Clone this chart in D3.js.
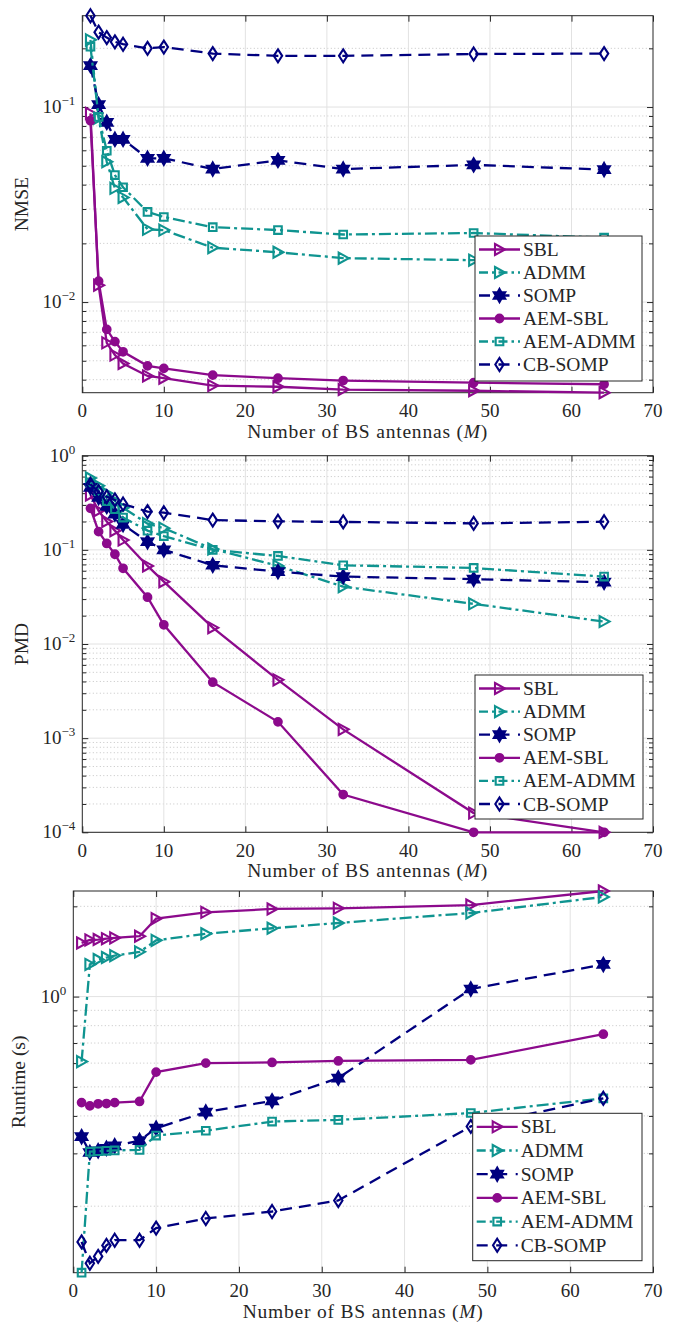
<!DOCTYPE html>
<html>
<head>
<meta charset="utf-8">
<script src="https://cdn.jsdelivr.net/npm/d3@7"></script>
<style>
  body { margin: 0; background: #fff; }
  svg { display: block; }
  text { font-family: "Liberation Serif", "DejaVu Serif", serif; fill: #262626; }
</style>
</head>
<body>
<div id="chart"></div>
<script>

// x values shared by every curve
const antennas = [1, 2, 3, 4, 5, 8, 10, 16, 24, 32, 48, 64]
const seriesNames = ["SBL", "ADMM", "SOMP", "AEM-SBL", "AEM-ADMM", "CB-SOMP"]
const xTicks = [0, 10, 20, 30, 40, 50, 60, 70]

// NMSE (top panel)
const nmseSBL     = [0.0928, 0.0122, 0.00618, 0.00535, 0.00484, 0.00418, 0.00407, 0.00373, 0.00368, 0.00356, 0.00351, 0.00343]
const nmseADMM    = [0.221, 0.0877, 0.0524, 0.0383, 0.0344, 0.0236, 0.0234, 0.0190, 0.0180, 0.0168, 0.0164, 0.0162]
const nmseSOMP    = [0.163, 0.103, 0.0835, 0.0683, 0.0683, 0.0546, 0.0546, 0.0481, 0.0533, 0.0481, 0.0505, 0.0478]
const nmseAEMSBL  = [0.0851, 0.0128, 0.00724, 0.00627, 0.00556, 0.00471, 0.00457, 0.00422, 0.00407, 0.00396, 0.00386, 0.00379]
const nmseAEMADMM = [0.204, 0.089, 0.0597, 0.0448, 0.0388, 0.0290, 0.0273, 0.0242, 0.0234, 0.0222, 0.0226, 0.0214]
const nmseCBSOMP  = [0.294, 0.242, 0.227, 0.216, 0.210, 0.200, 0.203, 0.188, 0.183, 0.183, 0.187, 0.188]

// PMD (middle panel)
const pmdSBL     = [0.383, 0.26, 0.20, 0.16, 0.127, 0.0675, 0.0459, 0.0149, 0.00416, 0.00124, 0.00016, 0.0001]
const pmdADMM    = [0.58, 0.48, 0.40, 0.33, 0.28, 0.19, 0.17, 0.102, 0.0675, 0.0407, 0.0267, 0.0173]
const pmdSOMP    = [0.46, 0.36, 0.29, 0.24, 0.186, 0.122, 0.100, 0.0686, 0.0587, 0.052, 0.0488, 0.0453]
const pmdAEMSBL  = [0.276, 0.156, 0.117, 0.0898, 0.0637, 0.0314, 0.0160, 0.00393, 0.00149, 0.000252, 0.0001, 0.0001]
const pmdAEMADMM = [0.52, 0.42, 0.33, 0.27, 0.22, 0.16, 0.14, 0.100, 0.0861, 0.0686, 0.0642, 0.052]
const pmdCBSOMP  = [0.497, 0.415, 0.367, 0.339, 0.307, 0.255, 0.248, 0.207, 0.201, 0.198, 0.191, 0.199]

// Runtime in seconds (bottom panel)
const rtSBL     = [1.51, 1.545, 1.55, 1.56, 1.57, 1.59, 1.82, 1.91, 1.96, 1.97, 2.02, 2.25]
const rtADMM    = [0.607, 1.28, 1.33, 1.35, 1.37, 1.41, 1.54, 1.62, 1.69, 1.76, 1.90, 2.15]
const rtSOMP    = [0.341, 0.302, 0.306, 0.312, 0.318, 0.331, 0.364, 0.412, 0.449, 0.535, 1.06, 1.28]
const rtAEMSBL  = [0.443, 0.432, 0.439, 0.44, 0.443, 0.447, 0.56, 0.60, 0.603, 0.61, 0.615, 0.749]
const rtAEMADMM = [0.120, 0.304, 0.305, 0.306, 0.307, 0.308, 0.344, 0.357, 0.383, 0.388, 0.409, 0.458]
const rtCBSOMP  = [0.152, 0.129, 0.136, 0.148, 0.154, 0.154, 0.169, 0.182, 0.192, 0.209, 0.369, 0.458]

// y limits of each panel (tight to the data in the figure)
const nmseLimits = [0.00343, 0.294]
const pmdLimits = [1e-4, 1]
const rtLimits = [0.12, 2.25]

const purple = '#8c0a8c', teal = '#0f9490', navy = '#00007f', axisColor = '#262626'
const fontFamily = '"Liberation Serif", "DejaVu Serif", serif'

const styles = {
    'SBL':      {color: purple, dash: null,          marker: 'tri'},
    'ADMM':     {color: teal,   dash: '12,4,3,4',    marker: 'tri'},
    'SOMP':     {color: navy,   dash: '12,7',        marker: 'hex'},
    'AEM-SBL':  {color: purple, dash: null,          marker: 'circle'},
    'AEM-ADMM': {color: teal,   dash: '12,4,3,4',    marker: 'square'},
    'CB-SOMP':  {color: navy,   dash: '12,7',        marker: 'diamond'}
}

function markerPath(type){
    if(type == 'tri') return 'M-4.5,-5.5L5.5,0L-4.5,5.5Z'
    if(type == 'square') return 'M-3.8,-3.8h7.6v7.6h-7.6Z'
    if(type == 'diamond') return 'M0,-6.5L4.2,0L0,6.5L-4.2,0Z'
    if(type == 'circle') return d3.symbol(d3.symbolCircle, 46)()
    // six pointed star
    let pts = []
    for(let i = 0; i < 12; i++){
        let a = (-90 + i * 30) * Math.PI / 180
        let r = i % 2 == 0 ? 6.6 : 3.8
        pts.push([r * Math.cos(a), r * Math.sin(a)])
    }
    return 'M' + pts.map(p => p[0].toFixed(2) + ',' + p[1].toFixed(2)).join('L') + 'Z'
}

function markerFill(type, color){
    return (type == 'hex' || type == 'circle') ? color : 'none'
}

const panels = [
    {top: 15.7, bottom: 392.7, left: 82.3, right: 653, limits: nmseLimits, ylabel: 'NMSE', ylabX: 28,
     values: [nmseSBL, nmseADMM, nmseSOMP, nmseAEMSBL, nmseAEMADMM, nmseCBSOMP],
     legend: {x: 475, y: 236, w: 167, h: 145, step: 23}},
    {top: 455.7, bottom: 832.3, left: 82.3, right: 653, limits: pmdLimits, ylabel: 'PMD', ylabX: 28,
     values: [pmdSBL, pmdADMM, pmdSOMP, pmdAEMSBL, pmdAEMADMM, pmdCBSOMP],
     legend: {x: 475, y: 675, w: 168, h: 144, step: 23.1}},
    {top: 891, bottom: 1272.7, left: 73.3, right: 653, limits: rtLimits, ylabel: 'Runtime (s)', ylabX: 25,
     values: [rtSBL, rtADMM, rtSOMP, rtAEMSBL, rtAEMADMM, rtCBSOMP],
     legend: {x: 472.7, y: 1113.3, w: 169.3, h: 147.4, step: 23.7}}
]

let svg = d3.select('#chart').append('svg')
    .attr('width', 677)
    .attr('height', 1324)
    .attr('font-family', fontFamily)

panels.forEach(function(p){

    let g = svg.append('g')

    let x = d3.scaleLinear().domain([0, 70]).range([p.left, p.right])
    let y = d3.scaleLog().domain(p.limits).range([p.bottom, p.top])

    let lo = Math.floor(Math.log10(p.limits[0])), hi = Math.ceil(Math.log10(p.limits[1]))
    let decades = [], minors = []
    for(let k = lo; k <= hi; k++){
        let v = Math.pow(10, k)
        if(v >= p.limits[0] * 0.999 && v <= p.limits[1] * 1.001) decades.push(v)
        for(let m = 2; m <= 9; m++){
            let mv = m * v
            if(mv > p.limits[0] && mv < p.limits[1]) minors.push(mv)
        }
    }

    // grid
    g.append('g').selectAll('line')
        .data(minors)
        .enter()
        .append('line')
        .attr('x1', p.left).attr('x2', p.right)
        .attr('y1', d => y(d)).attr('y2', d => y(d))
        .attr('stroke', '#c4c4c4')
        .attr('stroke-width', 1)
        .attr('stroke-dasharray', '1,2.5')

    g.append('g').selectAll('line')
        .data(decades)
        .enter()
        .append('line')
        .attr('x1', p.left).attr('x2', p.right)
        .attr('y1', d => y(d)).attr('y2', d => y(d))
        .attr('stroke', '#e2e2e2')
        .attr('stroke-width', 1)

    g.append('g').selectAll('line')
        .data(xTicks.slice(1, -1))
        .enter()
        .append('line')
        .attr('x1', d => x(d)).attr('x2', d => x(d))
        .attr('y1', p.top).attr('y2', p.bottom)
        .attr('stroke', '#e2e2e2')
        .attr('stroke-width', 1)

    // ticks (inward, all four sides)
    let axes = g.append('g').attr('class', 'axes')

    axes.append('g')
        .attr('transform', 'translate(0,' + p.bottom + ')')
        .call(d3.axisBottom(x).tickValues(xTicks).tickSizeInner(-6).tickSizeOuter(0).tickFormat(''))
    axes.append('g')
        .attr('transform', 'translate(0,' + p.top + ')')
        .call(d3.axisTop(x).tickValues(xTicks).tickSizeInner(-6).tickSizeOuter(0).tickFormat(''))
    axes.append('g')
        .attr('transform', 'translate(' + p.left + ',0)')
        .call(d3.axisLeft(y).tickValues(decades).tickSizeInner(-6).tickSizeOuter(0).tickFormat(''))
    axes.append('g')
        .attr('transform', 'translate(' + p.right + ',0)')
        .call(d3.axisRight(y).tickValues(decades).tickSizeInner(-6).tickSizeOuter(0).tickFormat(''))
    axes.append('g')
        .attr('transform', 'translate(' + p.left + ',0)')
        .call(d3.axisLeft(y).tickValues(minors).tickSizeInner(-4).tickSizeOuter(0).tickFormat(''))
    axes.append('g')
        .attr('transform', 'translate(' + p.right + ',0)')
        .call(d3.axisRight(y).tickValues(minors).tickSizeInner(-4).tickSizeOuter(0).tickFormat(''))

    axes.selectAll('.domain').remove()
    axes.selectAll('line').attr('stroke', axisColor).attr('stroke-width', 1)

    g.append('rect')
        .attr('x', p.left).attr('y', p.top)
        .attr('width', p.right - p.left).attr('height', p.bottom - p.top)
        .attr('fill', 'none')
        .attr('stroke', axisColor)
        .attr('stroke-width', 1)

    // tick labels
    g.append('g').selectAll('text')
        .data(xTicks)
        .enter()
        .append('text')
        .attr('x', d => x(d))
        .attr('y', p.bottom + 24.5)
        .attr('text-anchor', 'middle')
        .attr('font-size', 19)
        .text(d => d)

    let ylab = g.append('g').selectAll('text')
        .data(decades)
        .enter()
        .append('text')
        .attr('x', p.left - 7)
        .attr('y', d => y(d) + 6)
        .attr('text-anchor', 'end')
        .attr('font-size', 19)

    ylab.append('tspan').text('10')
    ylab.append('tspan')
        .attr('dy', -8)
        .attr('font-size', 13)
        .text(d => {
            let e = Math.round(Math.log10(d))
            return e < 0 ? '\u2212' + (-e) : '' + e
        })

    // axis labels
    let xl = g.append('text')
        .attr('x', (p.left + p.right) / 2)
        .attr('y', p.bottom + 45)
        .attr('text-anchor', 'middle')
        .attr('font-size', 19.5)
        .attr('letter-spacing', 0.8)
    xl.append('tspan').text('Number of BS antennas (')
    xl.append('tspan').attr('font-style', 'italic').text('M')
    xl.append('tspan').text(')')

    g.append('text')
        .attr('transform', 'translate(' + p.ylabX + ',' + ((p.top + p.bottom) / 2) + ') rotate(-90)')
        .attr('text-anchor', 'middle')
        .attr('font-size', 19.5)
        .text(p.ylabel)

    // curves
    seriesNames.forEach(function(name, si){

        let st = styles[name]
        let pts = antennas.map((a, i) => [a, p.values[si][i]])

        let line = d3.line()
            .x(d => x(d[0]))
            .y(d => y(d[1]))

        g.append('path')
            .datum(pts)
            .attr('d', line)
            .attr('fill', 'none')
            .attr('stroke', st.color)
            .attr('stroke-width', 2.3)
            .attr('stroke-dasharray', st.dash)

        g.append('g').selectAll('path')
            .data(pts)
            .enter()
            .append('path')
            .attr('transform', d => 'translate(' + x(d[0]) + ',' + y(d[1]) + ')')
            .attr('d', markerPath(st.marker))
            .attr('fill', markerFill(st.marker, st.color))
            .attr('stroke', st.color)
            .attr('stroke-width', 2.1)
    })

    // legend
    let L = p.legend
    let leg = g.append('g')
    leg.append('rect')
        .attr('x', L.x).attr('y', L.y)
        .attr('width', L.w).attr('height', L.h)
        .attr('fill', '#fff')
        .attr('stroke', axisColor)
        .attr('stroke-width', 1)

    let item = leg.selectAll('.item')
        .data(seriesNames)
        .enter()
        .append('g')
        .attr('transform', (d, i) => 'translate(' + L.x + ',' + (L.y + 13.5 + i * L.step) + ')')

    item.append('line')
        .attr('x1', 4).attr('x2', 45)
        .attr('y1', 0).attr('y2', 0)
        .attr('stroke', d => styles[d].color)
        .attr('stroke-width', 2.3)
        .attr('stroke-dasharray', d => styles[d].dash ? (styles[d].marker == 'hex' || styles[d].marker == 'diamond' ? '11,8.5' : '9,4,2.5,4') : null)

    item.append('path')
        .attr('transform', 'translate(24.5,0)')
        .attr('d', d => markerPath(styles[d].marker))
        .attr('fill', d => markerFill(styles[d].marker, styles[d].color))
        .attr('stroke', d => styles[d].color)
        .attr('stroke-width', 2.1)

    item.append('text')
        .attr('x', 48)
        .attr('y', 6.5)
        .attr('font-size', 19.5)
        .text(d => d)
})

</script>
</body>
</html>
